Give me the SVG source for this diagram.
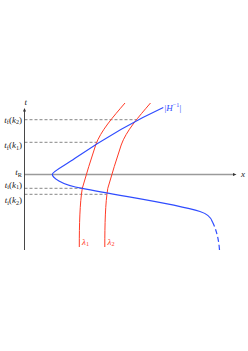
<svg xmlns="http://www.w3.org/2000/svg" width="248" height="351" viewBox="0 0 248 351">
<style>
text{font-family:"Liberation Serif","DejaVu Serif",serif;font-size:9px;fill:#222}
.it{font-style:italic}
.sub{font-size:6.2px}
.dash{stroke:#333;stroke-width:0.6;stroke-dasharray:3 2;fill:none}
.red{stroke:#ff3a26;stroke-width:1;fill:none}
.blue{stroke:#2f4cff;stroke-width:1.2;fill:none}
</style>
<rect width="248" height="351" fill="#fff"/>
<g id="axes">
<line x1="24.5" y1="174.5" x2="234" y2="174.5" stroke="#9a9a9a" stroke-width="1.6"/>
<path d="M233,173 L236.5,174.5 L233,176 Z" fill="#333"/>
<line x1="24.5" y1="250" x2="24.5" y2="110" stroke="#333" stroke-width="0.9"/>
<path d="M23,111.5 L24.5,108 L26,111.5 Z" fill="#333"/>
<text x="24.5" y="105" class="it">t</text>
<text x="241" y="177" class="it">x</text>
</g>
<g id="dashes">
<line class="dash" x1="24.5" y1="119.7" x2="136.7" y2="119.7"/>
<line class="dash" x1="24.5" y1="142.3" x2="96.7" y2="142.3"/>
<line class="dash" x1="24.5" y1="188.3" x2="82.3" y2="188.3"/>
<line class="dash" x1="24.5" y1="194.3" x2="106.7" y2="194.3"/>
</g>
<g id="lambda1">
<path class="red" d="M79.3,247 C79.3,225 79.8,203 82.3,188.3 C86.5,174.3 90.8,159 95.7,145 C100.6,131 113,117 125,103"/>
<text x="82" y="244.5" style="fill:#ff3a26" class="it">λ<tspan class="sub" dy="1.5" font-style="normal">1</tspan></text>
</g>
<g id="lambda2">
<path class="red" d="M104.8,247 C104.8,225 105.3,203 107.8,188.3 C112,174.3 116.3,159 121.2,145 C126.1,131 138.5,117 150.5,103"/>
<text x="107.5" y="244.5" style="fill:#ff3a26" class="it">λ<tspan class="sub" dy="1.5" font-style="normal">2</tspan></text>
</g>
<g id="Hinv">
<path class="blue" d="M163.3,107.5 C133.9,121 104.4,138.3 75,158.3 C65,165.3 52.3,171.5 52.3,174.3 C52.3,177 60,185 82.3,188.3 C122,196.3 175,203.5 200,211.5 C207,213.7 211,217 212.5,222"/>
<path class="blue" stroke-dasharray="5 3" d="M212.5,222 C215,227 218.5,236 219.5,250"/>
<text x="164.5" y="110.5" style="fill:#2f4cff">|<tspan class="it">H</tspan><tspan class="sub" dy="-3.2">−1</tspan><tspan dy="3.2">|</tspan></text>
</g>
<g id="tlabels">
<text x="22" y="122.5" text-anchor="end"><tspan class="it">t</tspan><tspan class="sub" dy="1.5">f</tspan><tspan dy="-1.5">(</tspan><tspan class="it">k</tspan><tspan class="sub" dy="1.5">2</tspan><tspan dy="-1.5">)</tspan></text>
<text x="22" y="148" text-anchor="end"><tspan class="it">t</tspan><tspan class="sub" dy="1.5">f</tspan><tspan dy="-1.5">(</tspan><tspan class="it">k</tspan><tspan class="sub" dy="1.5">1</tspan><tspan dy="-1.5">)</tspan></text>
<text x="22" y="175" text-anchor="end"><tspan class="it">t</tspan><tspan class="sub" dy="1.5">R</tspan></text>
<text x="22" y="187.5" text-anchor="end"><tspan class="it">t</tspan><tspan class="sub" dy="1.5">i</tspan><tspan dy="-1.5">(</tspan><tspan class="it">k</tspan><tspan class="sub" dy="1.5">1</tspan><tspan dy="-1.5">)</tspan></text>
<text x="22" y="203" text-anchor="end"><tspan class="it">t</tspan><tspan class="sub" dy="1.5">i</tspan><tspan dy="-1.5">(</tspan><tspan class="it">k</tspan><tspan class="sub" dy="1.5">2</tspan><tspan dy="-1.5">)</tspan></text>
</g>
</svg>
